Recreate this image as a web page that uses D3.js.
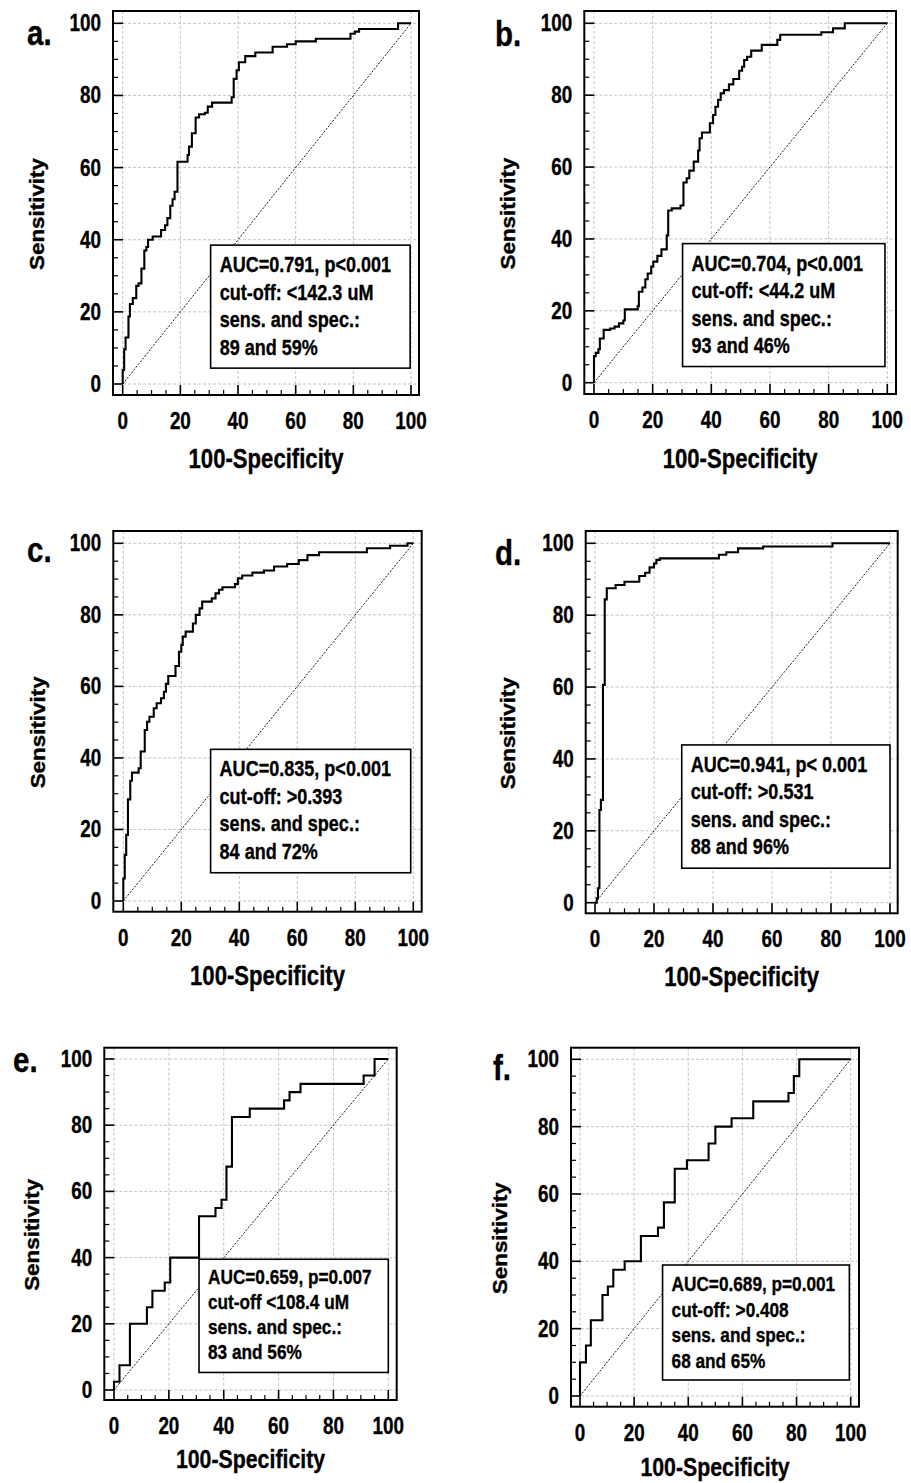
<!DOCTYPE html>
<html>
<head>
<meta charset="utf-8">
<script src="https://cdn.jsdelivr.net/npm/d3@7"></script>
<style>
  html, body { margin: 0; padding: 0; background: #fff; }
  svg { display: block; }
  text { font-family: "Liberation Sans", Arial, sans-serif; font-weight: bold; fill: #000; stroke: #000; stroke-width: 0.35px; }
</style>
</head>
<body>
<svg id="fig" width="911" height="1483"></svg>
<script>
// Axis ticks shared by every panel
const majorTicks = [0, 20, 40, 60, 80, 100];
const minorTicks = [5, 10, 15, 25, 30, 35, 45, 50, 55, 65, 70, 75, 85, 90, 95];
const xTitle = "100-Specificity";
const yTitle = "Sensitivity";

// ROC curve a: 100-specificity (x) and sensitivity (y), step vertices
const fprA  = [0, 0, 0.5, 1, 2, 2.5, 3.5, 4.7, 5.5, 6.5, 7.5, 8.2, 8.8, 10.4, 13.3, 14.7, 15.5, 16.5, 17.3, 18, 19, 22.5, 23, 24, 25.3, 26.5, 28.5, 29.5, 31, 37.8, 38.5, 39.5, 40.3, 42.5, 46, 52, 57, 60, 67, 79, 80.5, 82, 95.5, 100];
const sensA = [0, 3.9, 9.6, 12.9, 18.7, 22.2, 23.8, 27.2, 27.9, 32, 37, 38, 40, 40.9, 42.7, 44, 46, 49.4, 51.2, 53.3, 61.6, 63.5, 65.8, 69.5, 73.9, 74.8, 75.2, 76.9, 78, 79.5, 84.6, 87, 89.2, 90.9, 91.9, 93.5, 94.2, 95, 95.7, 97.1, 97.7, 98.4, 100, 100];
const noteA = ["AUC=0.791, p<0.001", "cut-off: <142.3 uM", "sens. and spec.:", "89 and 59%"];

// ROC curve b
const fprB  = [0, 0, 0.6, 1.5, 2, 3.3, 5.5, 7, 8.5, 10, 10.5, 14.9, 15.3, 16.5, 17.5, 18.3, 19.5, 20.2, 21.6, 23, 24.8, 25.3, 26.5, 29.5, 30.5, 31.6, 32.5, 34, 35.5, 36, 36.8, 39.5, 40.6, 41.4, 42.3, 43.2, 44.3, 46, 47.5, 49.5, 50.5, 51.2, 52.2, 53.6, 57.2, 62.5, 63.5, 77.5, 81.5, 85.5, 100];
const sensB = [0, 7.4, 8.3, 9.3, 12.3, 14.7, 15.1, 15.6, 16.5, 17.3, 20.4, 21.3, 25.3, 26.5, 28.8, 30.4, 32.3, 33.7, 35.3, 37.1, 41, 47.9, 48.5, 49.3, 55.7, 56.9, 59, 61.5, 64.6, 68, 69.6, 72.2, 74.5, 76.8, 78.7, 80.5, 81.4, 83, 84.5, 86.8, 87.9, 89.8, 90.7, 92.4, 94, 95.4, 96.8, 97.5, 98.6, 100, 100];
const noteB = ["AUC=0.704, p<0.001", "cut-off: <44.2 uM", "sens. and spec.:", "93 and 46%"];

// ROC curve c
const fprC  = [0, 0, 0.5, 1, 1.6, 2.4, 3, 5.3, 6, 7.4, 8.2, 9, 10.5, 11.5, 13, 14, 14.7, 15.5, 18, 19.2, 20, 20.5, 21.5, 24, 25, 26.3, 27.2, 30.5, 31.8, 33, 34.2, 38.5, 39.5, 41, 44.5, 48.5, 52, 56.5, 60.5, 63.5, 67.5, 84, 92, 98, 100];
const sensC = [0, 6.3, 12.9, 18.5, 28.4, 33.6, 35.9, 37.1, 41.8, 47.8, 50.1, 51.5, 53.9, 55.3, 56.7, 58.5, 60.7, 62.9, 65.7, 69.7, 71.6, 73.9, 75.3, 77.6, 80, 81.8, 83.7, 84.6, 86, 87, 87.7, 88.6, 90.2, 91, 91.8, 92.4, 93.5, 94.2, 95.3, 96.7, 97.5, 98.6, 99.3, 100, 100];
const noteC = ["AUC=0.835, p<0.001", "cut-off: >0.393", "sens. and spec.:", "84 and 72%"];

// ROC curve d
const fprD  = [0, 0.6, 1, 1.5, 2, 2.7, 3.3, 4, 7, 10, 15, 17, 18.5, 20, 20.8, 22, 42, 44.5, 48.5, 57, 80.5, 100];
const sensD = [0, 1.2, 4, 25.8, 28.6, 60.6, 84.4, 87.5, 88.4, 89.3, 90.9, 91.8, 93.3, 94.4, 95.4, 95.8, 96.8, 97.5, 98.6, 99.1, 100, 100];
const noteD = ["AUC=0.941, p< 0.001", "cut-off: >0.531", "sens. and spec.:", "88 and 96%"];

// ROC curve e
const fprE  = [0, 0, 2, 5.8, 12, 14, 18.5, 20.5, 31, 37, 39.2, 41, 43, 49.5, 62, 64, 68, 91, 95, 100];
const sensE = [0, 2.5, 7.5, 20, 25, 30, 32.5, 40, 52.5, 55, 57.5, 67.5, 82.5, 85, 87.5, 90, 92.5, 95, 100, 100];
const noteE = ["AUC=0.659, p=0.007", "cut-off <108.4 uM", "sens. and spec.:", "83 and 56%"];

// ROC curve f
const fprF  = [0, 0, 2.2, 4, 8.3, 10.3, 12.3, 16.5, 22.5, 28.8, 31, 35, 39.5, 47.5, 50, 56, 64, 77, 79, 81, 100];
const sensF = [0, 10, 15, 22.5, 30, 32.5, 37.5, 40, 47.5, 50, 57.5, 67.5, 70, 75, 80, 82.5, 87.5, 90, 95, 100, 100];
const noteF = ["AUC=0.689, p=0.001", "cut-off: >0.408", "sens. and spec.:", "68 and 65%"];

// Panel layout: frame box, plotting range, legend box (in data units), text sizes
const panels = [
  { tag: "a.", fpr: fprA, sens: sensA, note: noteA,
    frame: [113, 11, 419, 395], xr: [122.7, 411], yr: [384, 23.3],
    box: [30.5, 38.5, 99.7, 4.4], tagPos: [27, 45], yTitleX: 44, xTitleY: 468,
    titleSize: 27, noteSize: 22, noteTop: 27, lineGap: 27.5 },
  { tag: "b.", fpr: fprB, sens: sensB, note: noteB,
    frame: [584.3, 11, 896, 394], xr: [594, 887.3], yr: [382.7, 23.3],
    box: [30.2, 38.7, 99.2, 4.5], tagPos: [495, 46], yTitleX: 515, xTitleY: 468,
    titleSize: 27, noteSize: 22, noteTop: 27, lineGap: 27.5 },
  { tag: "c.", fpr: fprC, sens: sensC, note: noteC,
    frame: [113.3, 531, 421.7, 911.7], xr: [123.3, 413.3], yr: [901, 543.3],
    box: [30.1, 42.4, 99.1, 7.9], tagPos: [27, 562], yTitleX: 45, xTitleY: 985,
    titleSize: 27, noteSize: 22, noteTop: 27, lineGap: 27.5 },
  { tag: "d.", fpr: fprD, sens: sensD, note: noteD,
    frame: [585.7, 531, 897.7, 913.3], xr: [595, 890], yr: [902.7, 543.3],
    box: [29.4, 43.9, 100, 9.6], tagPos: [495, 565], yTitleX: 515, xTitleY: 986,
    titleSize: 27, noteSize: 22, noteTop: 27, lineGap: 27.5 },
  { tag: "e.", fpr: fprE, sens: sensE, note: noteE,
    frame: [104.3, 1047.7, 396.7, 1400], xr: [114, 388.3], yr: [1390, 1059],
    box: [31, 39.5, 100, 5.3], tagPos: [13, 1072], yTitleX: 39, xTitleY: 1468,
    titleSize: 26, noteSize: 21, noteTop: 25, lineGap: 25 },
  { tag: "f.", fpr: fprF, sens: sensF, note: noteF,
    frame: [571, 1047.7, 859, 1406.7], xr: [580, 850.7], yr: [1396, 1059.3],
    box: [30.5, 38.9, 99.5, 4.75], tagPos: [493, 1080], yTitleX: 507, xTitleY: 1476,
    titleSize: 26, noteSize: 21, noteTop: 26, lineGap: 25.5 }
];

// bold lettering with a horizontal stretch factor (below 1 gives a condensed look)
function label(parent, x, y, str, size, anchor, rotate, stretch) {
  const rot = rotate ? ` rotate(${rotate})` : "";
  const k = stretch || 0.82;
  return parent.append("text")
    .attr("transform", `translate(${x},${y})${rot} scale(${k},1)`)
    .attr("text-anchor", anchor || "start")
    .attr("font-size", size)
    .text(str);
}

const svg = d3.select("#fig");

panels.forEach(p => {
  const g = svg.append("g");
  const [fl, ft, fr, fb] = p.frame;
  const x = d3.scaleLinear().domain([0, 100]).range(p.xr);
  const y = d3.scaleLinear().domain([0, 100]).range(p.yr);

  // dashed grid at major ticks
  g.append("g").selectAll("line").data(majorTicks).join("line")
    .attr("x1", d => x(d)).attr("x2", d => x(d)).attr("y1", ft).attr("y2", fb)
    .attr("stroke", "#c4c4c4").attr("stroke-width", 1).attr("stroke-dasharray", "3,2");
  g.append("g").selectAll("line").data(majorTicks).join("line")
    .attr("x1", fl).attr("x2", fr).attr("y1", d => y(d)).attr("y2", d => y(d))
    .attr("stroke", "#c4c4c4").attr("stroke-width", 1).attr("stroke-dasharray", "3,2");

  // chance diagonal
  g.append("line")
    .attr("x1", x(0)).attr("y1", y(0)).attr("x2", x(100)).attr("y2", y(100))
    .attr("stroke", "#000").attr("stroke-width", 0.9).attr("stroke-dasharray", "2,1.5");

  // inward ticks on left and bottom axes
  const tickG = g.append("g").attr("stroke", "#000");
  tickG.append("g").selectAll("line").data(majorTicks).join("line")
    .attr("x1", d => x(d)).attr("x2", d => x(d)).attr("y1", fb).attr("y2", fb - 10).attr("stroke-width", 1.6);
  tickG.append("g").selectAll("line").data(minorTicks).join("line")
    .attr("x1", d => x(d)).attr("x2", d => x(d)).attr("y1", fb).attr("y2", fb - 5).attr("stroke-width", 1.2);
  tickG.append("g").selectAll("line").data(majorTicks).join("line")
    .attr("y1", d => y(d)).attr("y2", d => y(d)).attr("x1", fl).attr("x2", fl + 10).attr("stroke-width", 1.6);
  tickG.append("g").selectAll("line").data(minorTicks).join("line")
    .attr("y1", d => y(d)).attr("y2", d => y(d)).attr("x1", fl).attr("x2", fl + 5).attr("stroke-width", 1.2);

  // ROC step curve
  const pts = p.fpr.map((v, i) => [v, p.sens[i]]);
  g.append("path")
    .attr("d", d3.line().x(d => x(d[0])).y(d => y(d[1])).curve(d3.curveStepAfter)(pts))
    .attr("fill", "none").attr("stroke", "#000").attr("stroke-width", 2.1).attr("stroke-linejoin", "miter");

  // frame
  g.append("rect")
    .attr("x", fl).attr("y", ft).attr("width", fr - fl).attr("height", fb - ft)
    .attr("fill", "none").attr("stroke", "#000").attr("stroke-width", 2);

  // tick labels
  majorTicks.forEach(t => {
    label(g, x(t), fb + 34, String(t), 23, "middle");
    label(g, fl - 12, y(t) + 8, String(t), 23, "end");
  });

  // axis titles
  label(g, (fl + fr) / 2, p.xTitleY, xTitle, p.titleSize, "middle");
  label(g, p.yTitleX, (ft + fb) / 2 + 11, yTitle, 20, "middle", -90, 1.12);

  // panel tag
  label(g, p.tagPos[0], p.tagPos[1], p.tag, 36, "start");

  // annotation box
  const [bx0, by0, bx1, by1] = p.box;
  g.append("rect")
    .attr("x", x(bx0)).attr("y", y(by0)).attr("width", x(bx1) - x(bx0)).attr("height", y(by1) - y(by0))
    .attr("fill", "#fff").attr("stroke", "#000").attr("stroke-width", 1.6);
  p.note.forEach((s, i) => {
    label(g, x(bx0) + 9, y(by0) + p.noteTop + i * p.lineGap, s, p.noteSize, "start");
  });
});
</script>
</body>
</html>
